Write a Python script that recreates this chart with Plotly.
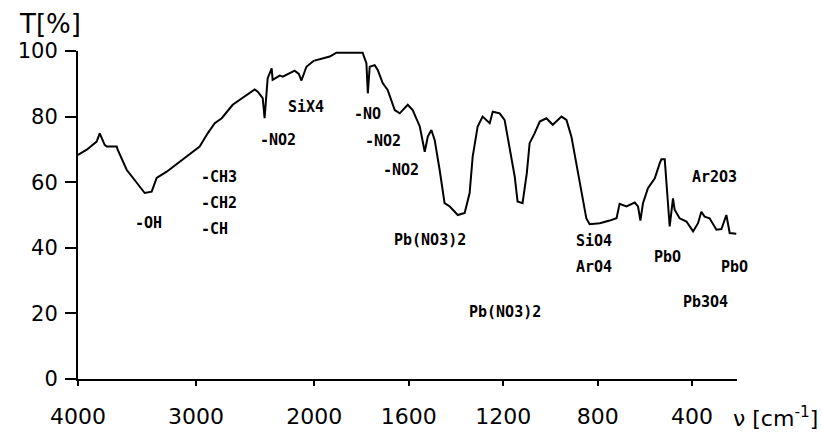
import plotly.graph_objects as go

# ---- data ----
wavenumber = [4000, 3926, 3842, 3816, 3774, 3757, 3672, 3664, 3588, 3503, 3435, 3376, 3334,
              3249, 3114, 2970, 2944, 2902, 2842, 2783, 2690, 2572, 2504, 2478, 2436, 2420,
              2402, 2394, 2360, 2352, 2292, 2266, 2182, 2166, 2130, 2108, 2066, 2012, 1934,
              1906, 1795, 1779, 1773, 1765, 1744, 1731, 1710, 1689, 1659, 1638, 1604, 1583,
              1553, 1532, 1519, 1504, 1490, 1469, 1448, 1426, 1392, 1363, 1342, 1329, 1308,
              1287, 1257, 1244, 1215, 1194, 1173, 1151, 1139, 1118, 1100, 1088, 1067, 1045,
              1017, 990, 953, 932, 911, 890, 869, 848, 834, 791, 749, 720, 707, 678, 643,
              629, 619, 608, 587, 558, 537, 530, 516, 502, 495, 481, 474, 453, 424, 396, 375,
              361, 347, 326, 297, 276, 255, 241, 213]
transmittance = [68.3, 69.9, 72.4, 74.9, 71.4, 70.9, 70.9, 69.9, 63.8, 59.8, 56.7, 57.1, 61.3,
                 63.2, 66.8, 70.9, 72.4, 74.9, 78.0, 79.5, 83.6, 86.6, 88.3, 87.6, 85.6, 79.5,
                 86.6, 91.7, 94.7, 91.2, 92.5, 92.2, 93.7, 94.0, 93.0, 91.0, 95.2, 96.8, 98.3,
                 99.5, 99.5, 96.3, 87.1, 95.2, 95.7, 94.2, 90.2, 88.1, 82.0, 81.0, 83.6, 82.0,
                 77.0, 69.3, 73.9, 75.9, 72.9, 63.8, 53.6, 52.6, 50.0, 50.6, 56.7, 67.8, 77.0,
                 80.0, 78.0, 81.5, 81.0, 79.0, 70.9, 61.7, 54.1, 53.6, 62.7, 71.9, 74.9, 78.5,
                 79.5, 77.5, 80.0, 79.0, 73.9, 65.8, 57.7, 49.0, 47.2, 47.5, 48.3, 49.0, 53.4,
                 52.6, 53.8, 52.6, 48.3, 53.6, 58.2, 61.2, 65.8, 67.0, 67.0, 53.6, 46.5, 55.1,
                 51.6, 49.0, 48.0, 45.0, 47.5, 51.0, 49.5, 49.0, 45.5, 45.7, 50.0, 44.5, 44.3]

y_ticks = [0, 20, 40, 60, 80, 100]
x_ticks_high = [4000, 3000, 2000]
x_ticks_low = [1600, 1200, 800, 400]
X_START, X_BREAK, X_END = 4000, 2000, 210

label_text = ["-OH", "-CH3", "-CH2", "-CH", "-NO2", "SiX4", "-NO", "-NO2", "-NO2",
              "Pb(NO3)2", "Pb(NO3)2", "SiO4", "ArO4", "PbO", "Ar2O3", "Pb3O4", "PbO"]
label_wn = [3536, 2975, 2975, 2975, 2480, 2236, 1840, 1793, 1717,
            1671, 1353, 900, 900, 570, 409, 448, 287]
label_t = [47.6, 61.6, 53.7, 45.6, 72.9, 82.9, 80.8, 72.6, 63.8,
           42.4, 20.5, 42.1, 34.2, 37.3, 61.6, 23.6, 34.2]

# ---- split across the scale break (two x axes, 2:1 compression above 2000) ----
hi = [i for i, w in enumerate(wavenumber) if w >= X_BREAK]
lo = [i for i, w in enumerate(wavenumber) if w <= X_BREAK]
hi_ext = hi + [hi[-1] + 1]
lo_ext = [lo[0] - 1] + lo

span_hi = (X_START - X_BREAK) / 2.0
span_lo = (X_BREAK - X_END)
split = span_hi / (span_hi + span_lo)

line = dict(color="black", width=2)
fig = go.Figure()
fig.add_trace(go.Scatter(x=[wavenumber[i] for i in hi_ext], y=[transmittance[i] for i in hi_ext],
                         mode="lines", line=line, xaxis="x", yaxis="y", showlegend=False,
                         hoverinfo="skip"))
fig.add_trace(go.Scatter(x=[wavenumber[i] for i in lo_ext], y=[transmittance[i] for i in lo_ext],
                         mode="lines", line=line, xaxis="x2", yaxis="y", showlegend=False,
                         hoverinfo="skip"))

tick_font_x = dict(family="DejaVu Sans, Arial", size=22, color="black")
tick_font_y = dict(family="DejaVu Sans, Arial", size=21, color="black")
common_x = dict(showline=True, linecolor="black", linewidth=2, ticks="outside", ticklen=5,
                tickwidth=2, tickcolor="black", showgrid=False, zeroline=False,
                tickfont=tick_font_x, ticklabelstandoff=12, automargin=False)

fig.update_layout(
    width=822, height=439,
    margin=dict(l=78, r=85, t=51, b=60),
    paper_bgcolor="white", plot_bgcolor="white",
    xaxis=dict(domain=[0, split], range=[X_START, X_BREAK], tickmode="array",
               tickvals=x_ticks_high, ticktext=[str(v) for v in x_ticks_high],
               anchor="y", **common_x),
    xaxis2=dict(domain=[split, 1], range=[X_BREAK, X_END], tickmode="array",
                tickvals=x_ticks_low, ticktext=[str(v) for v in x_ticks_low],
                anchor="y", **common_x),
    yaxis=dict(range=[0, 100], tickmode="array", tickvals=y_ticks,
               ticktext=[str(v) for v in y_ticks], showline=True, linecolor="black",
               linewidth=2, ticks="outside", ticklen=11, tickwidth=2, tickcolor="black",
               showgrid=False, zeroline=False, tickfont=tick_font_y, ticklabelstandoff=3,
               automargin=False),
)

lab_font = dict(family="DejaVu Sans Mono", size=15, color="black", weight="bold")
for txt, w, t in zip(label_text, label_wn, label_t):
    fig.add_annotation(text=txt, x=w, y=t, xref="x" if w >= X_BREAK else "x2", yref="y",
                       xanchor="left", yanchor="middle", showarrow=False, font=lab_font)

fig.add_annotation(text="T[%]", xref="paper", yref="paper", x=0, y=1, xanchor="right",
                   yanchor="middle", xshift=5, yshift=27, showarrow=False,
                   font=dict(family="DejaVu Sans, Arial", size=26, color="black"))
fig.add_annotation(text="ν [cm<sup>-1</sup>]", xref="paper", yref="paper", x=1, y=0,
                   xanchor="left", yanchor="middle", xshift=-6, yshift=-38, showarrow=False,
                   font=dict(family="DejaVu Sans, Arial", size=22, color="black"))

fig.write_html("out.html")
